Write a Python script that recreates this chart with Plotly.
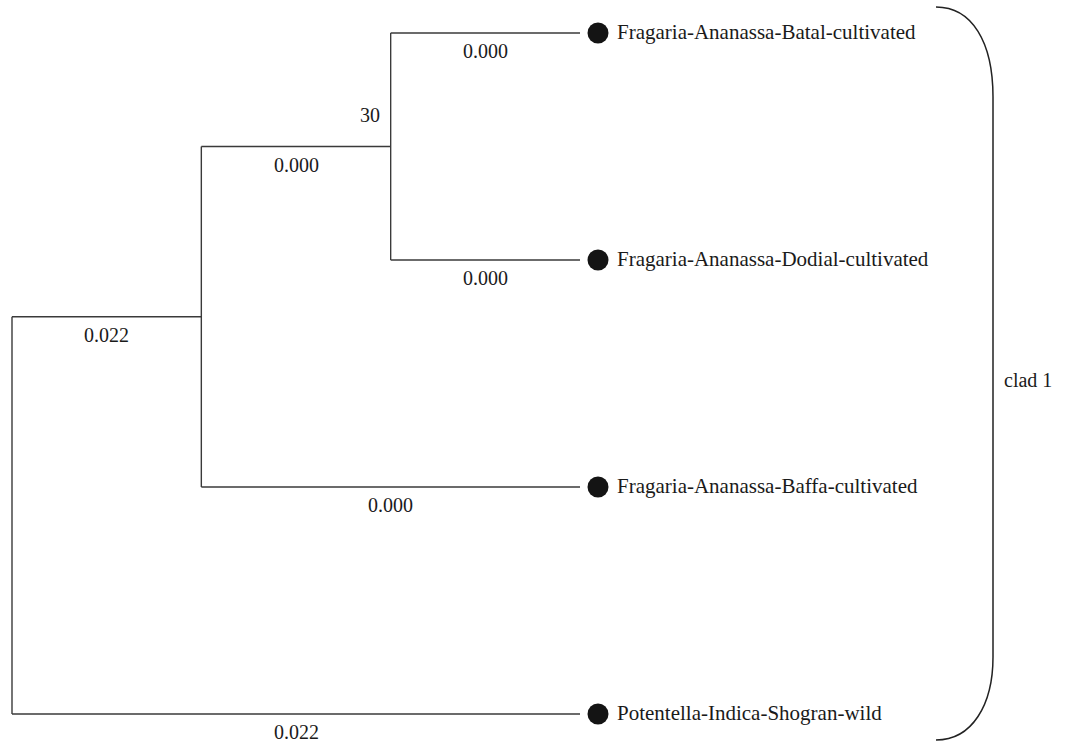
import plotly.graph_objects as go

# ---- data ----
leaf_names = [
    "Fragaria-Ananassa-Batal-cultivated",
    "Fragaria-Ananassa-Dodial-cultivated",
    "Fragaria-Ananassa-Baffa-cultivated",
    "Potentella-Indica-Shogran-wild",
]
leaf_branch_labels = ["0.000", "0.000", "0.000", "0.022"]
# internal nodes: name -> (children, depth level, branch label, bootstrap)
node_children = {"A": ["L0", "L1"], "B": ["A", "L2"], "root": ["B", "L3"]}
node_depth = {"A": 2, "B": 1, "root": 0}
node_branch_labels = {"A": "0.000", "B": "0.022"}
node_bootstrap = {"A": "30"}
clade_label = "clad 1"
leaf_depth = 3

# ---- layout helpers (pixel mapping of the axes) ----
W, H = 1065, 743
X0PX, XSTEP = 12.0, (580.0 - 12.0) / 3.0
Y0PX, YSTEP = 33.0, (714.0 - 33.0) / 3.0
xrange = [-X0PX / XSTEP, (W - X0PX) / XSTEP]
yrange = [(H - Y0PX) / YSTEP, -Y0PX / YSTEP]

# positions
pos = {}
for i, _ in enumerate(leaf_names):
    pos[f"L{i}"] = (leaf_depth, i)
for n in ["A", "B", "root"]:
    ys = [pos[c][1] for c in node_children[n]]
    pos[n] = (node_depth[n], sum(ys) / len(ys))

parent = {}
for n, ch in node_children.items():
    for c in ch:
        parent[c] = n

lx, ly = [], []
for n, ch in node_children.items():
    x, _ = pos[n]
    ys = [pos[c][1] for c in ch]
    lx += [x, x, None]
    ly += [min(ys), max(ys), None]
    for c in ch:
        cx, cy = pos[c]
        lx += [x, cx, None]
        ly += [cy, cy, None]

fig = go.Figure()
fig.add_trace(go.Scatter(x=lx, y=ly, mode="lines",
                         line=dict(color="#3a3a3a", width=1.4),
                         hoverinfo="skip", showlegend=False))

leaf_x = [pos[f"L{i}"][0] for i in range(len(leaf_names))]
leaf_y = [pos[f"L{i}"][1] for i in range(len(leaf_names))]
fig.add_trace(go.Scatter(x=[v + 18 / XSTEP for v in leaf_x], y=leaf_y, mode="markers",
                         marker=dict(size=21, color="#141414"),
                         hoverinfo="skip", showlegend=False))

font_main = "Liberation Serif, Times New Roman, serif"
ann = []
for i, name in enumerate(leaf_names):
    ann.append(dict(x=leaf_x[i], y=leaf_y[i], text=name, xanchor="left", yanchor="middle",
                    xshift=35, yshift=1, showarrow=False,
                    font=dict(family=font_main, size=21, color="#1a1a1a")))

# branch labels
branch_labels = {f"L{i}": leaf_branch_labels[i] for i in range(len(leaf_names))}
branch_labels.update(node_branch_labels)
for n, lab in branch_labels.items():
    cx, cy = pos[n]
    px = pos[parent[n]][0]
    ann.append(dict(x=(cx + px) / 2, y=cy, text=lab, xanchor="center", yanchor="middle",
                    yshift=-18, showarrow=False,
                    font=dict(family=font_main, size=20, color="#1a1a1a")))
for n, lab in node_bootstrap.items():
    x, y = pos[n]
    ann.append(dict(x=x, y=y, text=lab, xanchor="right", yanchor="middle",
                    xshift=-9, yshift=32, showarrow=False,
                    font=dict(family=font_main, size=20, color="#1a1a1a")))

# clade bracket
bx0, bx1 = (936 - X0PX) / XSTEP, (993 - X0PX) / XSTEP
yt, yb = leaf_y[0] - 26 / YSTEP, leaf_y[-1] + 26 / YSTEP
yt2, yb2 = yt + 90 / YSTEP, yb - 83 / YSTEP
cx1 = (972 - X0PX) / XSTEP
path = (f"M {bx0},{yt} C {cx1},{yt} {bx1},{yt + 35 / YSTEP} {bx1},{yt2} "
        f"L {bx1},{yb2} C {bx1},{yb - 35 / YSTEP} {cx1},{yb} {bx0},{yb}")
fig.add_shape(type="path", path=path, xref="x", yref="y",
              line=dict(color="#222222", width=1.5))
ann.append(dict(x=(1028 - X0PX) / XSTEP, y=(leaf_y[0] + leaf_y[-1]) / 2, text=clade_label,
                xanchor="center", yanchor="middle", yshift=-6, showarrow=False,
                font=dict(family=font_main, size=20, color="#1a1a1a")))

fig.update_layout(
    width=W, height=H, margin=dict(l=0, r=0, t=0, b=0),
    paper_bgcolor="white", plot_bgcolor="white",
    xaxis=dict(range=xrange, visible=False, fixedrange=True),
    yaxis=dict(range=yrange, visible=False, fixedrange=True),
    annotations=ann, showlegend=False,
)
fig.write_html("out.html", config={"displayModeBar": False},
               post_script="document.body.style.margin='0';document.body.style.overflow='hidden';")
